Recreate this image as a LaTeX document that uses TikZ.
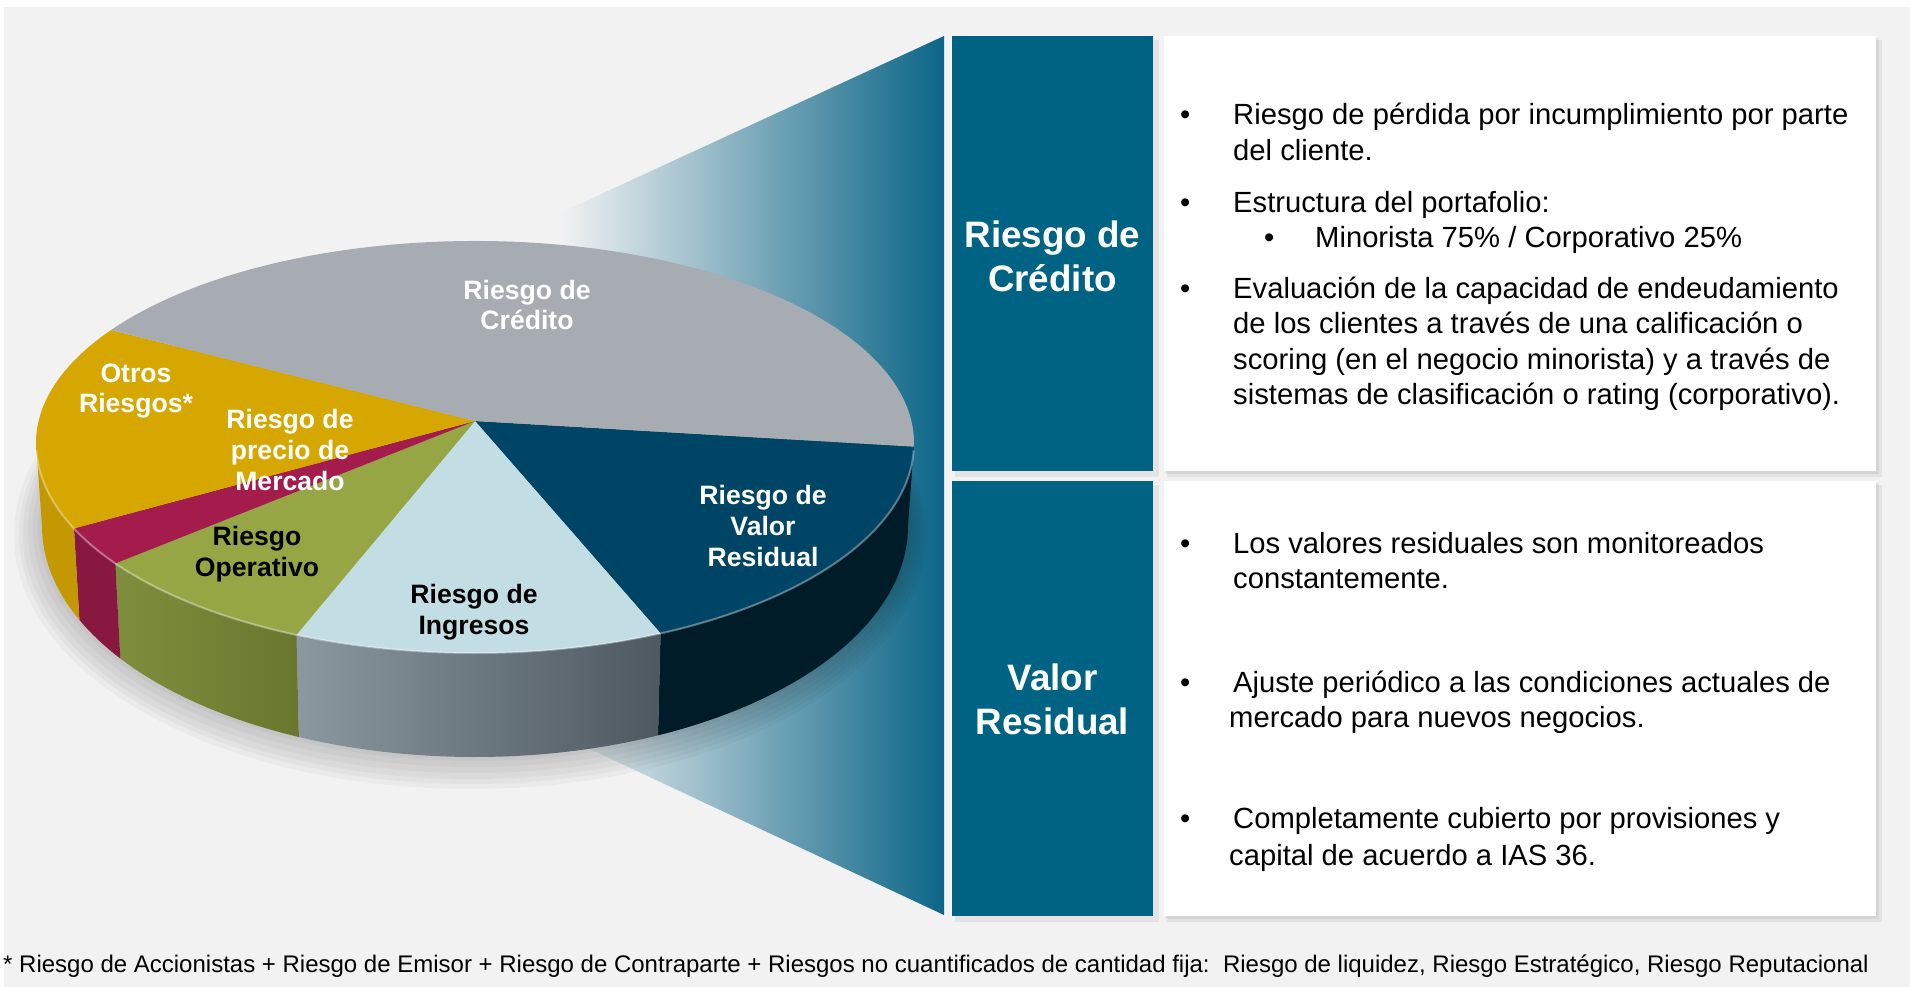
\documentclass[tikz,border=0pt]{standalone}
\usepackage{fontspec}
\setmainfont{Liberation Sans}
\usetikzlibrary{calc}
\definecolor{bggrey}{HTML}{F2F2F2}
\definecolor{boxblue}{HTML}{006383}
\definecolor{funnelblue}{HTML}{0B6587}
\definecolor{credgrey}{HTML}{A7ABB2}
\definecolor{otrosgold}{HTML}{D5A700}
\definecolor{otrosside}{HTML}{C39800}
\definecolor{mercred}{HTML}{A31C4B}
\definecolor{mercside}{HTML}{891840}
\definecolor{opergreen}{HTML}{96A644}
\definecolor{operlight}{HTML}{7F8E3C}
\definecolor{operdark}{HTML}{69772F}
\definecolor{ingrblue}{HTML}{C3DDE5}
\definecolor{ingrlight}{HTML}{8A98A0}
\definecolor{ingrdark}{HTML}{4E5860}
\definecolor{valornavy}{HTML}{004565}
\definecolor{valorside}{HTML}{001C28}
\tikzset{pielbl/.style={font=\fontsize{26.6}{30.6}\selectfont\bfseries,align=center,inner sep=0pt},
    bluebox/.style={fill=boxblue,minimum width=201,minimum height=435,inner sep=0pt},
    boxtitle/.style={text=white,font=\fontsize{36.8}{44}\selectfont\bfseries,align=center,inner sep=0pt},
    textbox/.style={fill=white,minimum width=712,minimum height=435,inner sep=0pt},
    boxshade/.style={fill=black,opacity=0.06},
    pieshade/.style={fill=black,opacity=0.03},
    body/.style={font=\fontsize{29.2}{36}\selectfont,anchor=base west,inner sep=0pt},
    footnote/.style={font=\fontsize{24}{28}\selectfont,anchor=base west,inner sep=0pt}}

\begin{document}
\begin{tikzpicture}[x=1pt,y=-1pt]
\useasboundingbox (0,0) rectangle (1910,987);
\fill[white] (0,0) rectangle (1910,987);
\fill[bggrey] (4,7) rectangle (1910,987);

% funnel behind the pie
\shade[left color=bggrey,right color=funnelblue] (944,36) -- (944,915) -- (560,735) -- (560,213) -- cycle;

% shadows of the boxes
\fill[boxshade] (955,40) rectangle (1159,477);
\fill[boxshade] (955,485) rectangle (1159,922);
\fill[boxshade] (1167,40) rectangle (1882,477);
\fill[boxshade] (1167,485) rectangle (1882,922);
\fill[boxshade] (1165,38) rectangle (1879,474);
\fill[boxshade] (1165,483) rectangle (1879,919);

\node[bluebox] (credito) at (1052.5,253.5) {};
\node[bluebox] (valor) at (1052.5,698.5) {};
\node[textbox] (creditotxt) at (1520,253.5) {};
\node[textbox] (valortxt) at (1520,698.5) {};
\node[boxtitle] (creditottl) at (1052.5,256) {Riesgo de\\Crédito};
\node[boxtitle] (valorttl) at (1052.5,699.5) {Valor\\Residual};

% pie
\begin{scope}[shift={(475,443)}]
% shadow
\fill[pieshade] ($(-5,92)+(0:456 and 254)$) arc[start angle=0,end angle=360,x radius=456,y radius=254];
\fill[pieshade] ($(-4,91)+(0:452 and 250)$) arc[start angle=0,end angle=360,x radius=452,y radius=250];
\fill[pieshade] ($(-4,90)+(0:448 and 246)$) arc[start angle=0,end angle=360,x radius=448,y radius=246];
\fill[pieshade] ($(-3,88)+(0:444 and 242)$) arc[start angle=0,end angle=360,x radius=444,y radius=242];
\fill[pieshade] ($(-2,86)+(0:440 and 238)$) arc[start angle=0,end angle=360,x radius=440,y radius=238];
\fill[pieshade] ($(-1,84)+(0:436 and 234)$) arc[start angle=0,end angle=360,x radius=436,y radius=234];
% sides
\fill[valorside] (0:439 and 210) arc[start angle=0,end angle=65,x radius=439,y radius=210]
    -- ($(0,83)+(65:433 and 231)$) arc[start angle=65,end angle=0,x radius=433,y radius=231] -- cycle;
\shade[left color=ingrlight,right color=ingrdark] (65:439 and 210) arc[start angle=65,end angle=114,x radius=439,y radius=210]
    -- ($(0,83)+(114:433 and 231)$) arc[start angle=114,end angle=65,x radius=433,y radius=231] -- cycle;
\shade[left color=operlight,right color=operdark] (114:439 and 210) arc[start angle=114,end angle=145,x radius=439,y radius=210]
    -- ($(0,83)+(145:433 and 231)$) arc[start angle=145,end angle=114,x radius=433,y radius=231] -- cycle;
\fill[mercside] (145:439 and 210) arc[start angle=145,end angle=156,x radius=439,y radius=210]
    -- ($(0,83)+(156:433 and 231)$) arc[start angle=156,end angle=145,x radius=433,y radius=231] -- cycle;
\fill[otrosside] (156:439 and 210) arc[start angle=156,end angle=180,x radius=439,y radius=210]
    -- ($(0,83)+(180:433 and 231)$) arc[start angle=180,end angle=156,x radius=433,y radius=231] -- cycle;
% top
\fill[valornavy] (0,-22) -- (1:439 and 210) arc[start angle=1,end angle=65,x radius=439,y radius=210] -- cycle;
\fill[ingrblue] (0,-22) -- (65:439 and 210) arc[start angle=65,end angle=114,x radius=439,y radius=210] -- cycle;
\fill[opergreen] (0,-22) -- (114:439 and 210) arc[start angle=114,end angle=145,x radius=439,y radius=210] -- cycle;
\fill[mercred] (0,-22) -- (145:439 and 210) arc[start angle=145,end angle=156,x radius=439,y radius=210] -- cycle;
\fill[otrosgold] (0,-22) -- (156:439 and 210) arc[start angle=156,end angle=180,x radius=439,y radius=210]
    arc[start angle=180,end angle=214,x radius=439,y radius=202] -- cycle;
\fill[credgrey] (0,-22) -- (214:439 and 202) arc[start angle=214,end angle=360,x radius=439,y radius=202]
    arc[start angle=0,end angle=1,x radius=439,y radius=210] -- cycle;
\draw[white,opacity=0.35,line width=2] (2:439 and 210) arc[start angle=2,end angle=178,x radius=439,y radius=210];
\end{scope}

\node[pielbl,text=white] (lblcredito) at (527,305) {Riesgo de\\Crédito};
\node[pielbl,text=white] (lblotros) at (136,391) {Otros\\Riesgos*};
\node[pielbl,text=white] (lblmercado) at (290,450) {Riesgo de\\precio de\\Mercado};
\node[pielbl] (lbloperativo) at (257,554) {Riesgo\\Operativo};
\node[pielbl] (lblingresos) at (474,612) {Riesgo de\\Ingresos};
\node[pielbl,text=white] (lblvalor) at (763,526) {Riesgo de\\Valor\\Residual};

% credit risk bullets
\node[body] (b1) at (1180,125) {•};
\node[body] (t1) at (1233,125) {Riesgo de pérdida por incumplimiento por parte};
\node[body] (t1b) at (1233,161) {del cliente.};
\node[body] (b2) at (1180,212) {•};
\node[body] (t2) at (1233,212) {Estructura del portafolio:};
\node[body] (b2a) at (1264,247) {•};
\node[body] (t2a) at (1315,247) {Minorista 75\% / Corporativo 25\%};
\node[body] (b3) at (1180,298) {•};
\node[body] (t3) at (1233,298) {Evaluación de la capacidad de endeudamiento};
\node[body] (t3b) at (1233,333) {de los clientes a través de una calificación o};
\node[body] (t3c) at (1233,369) {scoring (en el negocio minorista) y a través de};
\node[body] (t3d) at (1233,404) {sistemas de clasificación o rating (corporativo).};

% residual value bullets
\node[body] (b4) at (1180,553) {•};
\node[body] (t4) at (1233,553) {Los valores residuales son monitoreados};
\node[body] (t4b) at (1233,588) {constantemente.};
\node[body] (b5) at (1180,692) {•};
\node[body] (t5) at (1233,692) {Ajuste periódico a las condiciones actuales de};
\node[body] (t5b) at (1229,727) {mercado para nuevos negocios.};
\node[body] (b6) at (1180,828) {•};
\node[body] (t6) at (1233,828) {Completamente cubierto por provisiones y};
\node[body] (t6b) at (1229,865) {capital de acuerdo a IAS 36.};

\node[footnote] (nota) at (3,972) {* Riesgo de Accionistas + Riesgo de Emisor + Riesgo de Contraparte + Riesgos no cuantificados de cantidad fija:\ \ Riesgo de liquidez, Riesgo Estratégico, Riesgo Reputacional};
\end{tikzpicture}
\end{document}
